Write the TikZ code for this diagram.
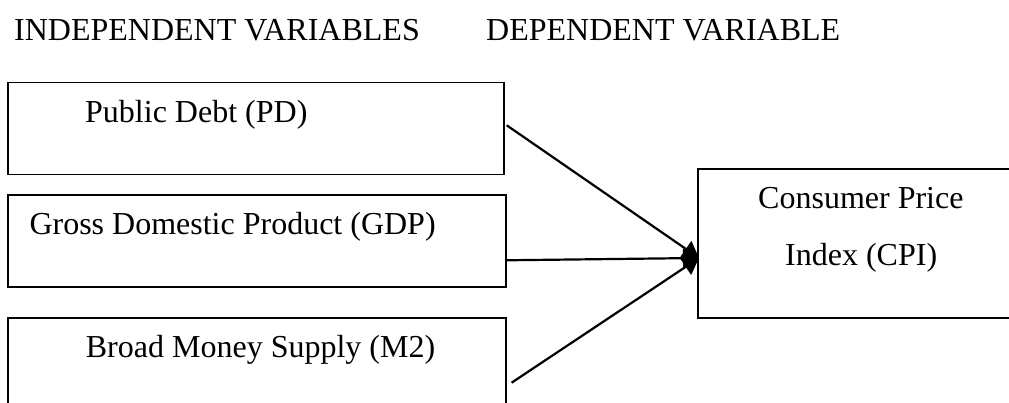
\documentclass[tikz,border=0pt]{standalone}
\usepackage{fontspec}
\setmainfont{Liberation Serif}
\usetikzlibrary{arrows.meta}
\begin{document}
\begin{tikzpicture}[x=1pt,y=-1pt,
  box/.style={draw=black, line width=1.8pt, rectangle, inner sep=0pt},
  lbl/.style={anchor=base west, inner sep=0pt, font=\fontsize{32}{38}\selectfont},
  arr/.style={line width=2.2pt, -{Triangle[length=16pt,width=19pt]}}]
\useasboundingbox (0,0) rectangle (1009,403);
\clip (0,0) rectangle (1009,403);
\fill[white] (0,0) rectangle (1009,403);
% headings
\node[lbl] (h1) at (14,40.7) {INDEPENDENT VARIABLES};
\node[lbl] (h2) at (486,40.7) {DEPENDENT VARIABLE};
% boxes
\node[box, minimum width=496pt, minimum height=92pt] (b1) at (256,128.5) {};
\node[box, minimum width=498pt, minimum height=92pt] (b2) at (257,241.3) {};
\node[box, minimum width=498pt, minimum height=92pt] (b3) at (257,364.3) {};
\node[box, minimum width=320pt, minimum height=149pt] (cpi) at (858,243.7) {};
% labels
\node[lbl] (t1) at (85,122.3) {Public Debt (PD)};
\node[lbl] (t2) at (29.3,234.7) {Gross Domestic Product (GDP)};
\node[lbl] (t3) at (85.7,357.3) {Broad Money Supply (M2)};
\node[lbl] (t4) at (758,209) {Consumer Price};
\node[lbl] (t5) at (785,266) {Index (CPI)};
% connectors
\coordinate (s1) at (506.7,125.3);
\coordinate (s2) at (505,260.3);
\coordinate (s3) at (511.6,382.7);
\coordinate (tip) at (699,258);
\draw[arr] (s1) -- (tip);
\draw[arr] (s2) -- (tip);
\draw[arr] (s3) -- (tip);
\end{tikzpicture}
\end{document}
